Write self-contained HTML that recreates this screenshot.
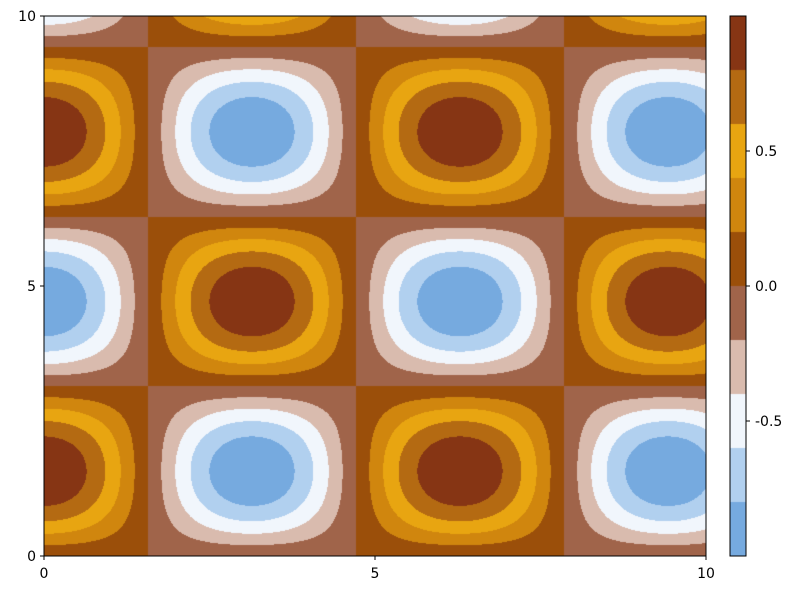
<!DOCTYPE html>
<html>
<head>
<meta charset="utf-8">
<style>
  html,body{margin:0;padding:0;background:#fff;}
  #wrap{position:relative;width:800px;height:600px;font-family:"DejaVu Sans","Liberation Sans",sans-serif;}
  canvas,svg{position:absolute;left:0;top:0;}
  text{font-family:"DejaVu Sans","Liberation Sans",sans-serif;}
</style>
</head>
<body>
<div id="wrap">
  <canvas id="plot" width="800" height="600"></canvas>
  <svg id="axes" width="800" height="600"></svg>
</div>
<script>
// ---- chart data ----
const levels = [-1.0,-0.8,-0.6,-0.4,-0.2,0.0,0.2,0.4,0.6,0.8,1.0];
const levelColors = ["#76aadf","#b1d0ef","#f1f6fc","#d9bbae","#a0644a","#9b4f0a","#d0860e","#e8a511","#b46a12","#863514"];
const xTicks = [0,5,10];
const yTicks = [0,5,10];
const cbTicks = [-0.5,0.0,0.5];
const cbTickLabels = ["-0.5","0.0","0.5"];
const xDomain = [0,10];
const yDomain = [0,10];
const fx = [1.0]; // z = cos(fx*x) * sin(fy*y)
const fy = [1.0];

// ---- layout ----
const L=44,R=706,T=16,B=556;
const CBL=730,CBR=746;
const sx = v => L + (v-xDomain[0])/(xDomain[1]-xDomain[0])*(R-L);
const sy = v => B - (v-yDomain[0])/(yDomain[1]-yDomain[0])*(B-T);
const sc = v => B - (v-levels[0])/(levels[levels.length-1]-levels[0])*(B-T);
const ix = p => xDomain[0] + (p-L)/(R-L)*(xDomain[1]-xDomain[0]);
const iy = p => yDomain[0] + (B-p)/(B-T)*(yDomain[1]-yDomain[0]);

function hex(c){return [parseInt(c.slice(1,3),16),parseInt(c.slice(3,5),16),parseInt(c.slice(5,7),16)];}
const rgb = levelColors.map(hex);
function bin(z){
  for(let i=0;i<levels.length-1;i++){ if(z<levels[i+1]) return i; }
  return levels.length-2;
}

const cv=document.getElementById('plot');
const ctx=cv.getContext('2d');
const w=R-L,h=B-T;
const img=ctx.createImageData(w,h);
for(let py=0;py<h;py++){
  const y=iy(T+py+0.5);
  const sy_=Math.sin(fy[0]*y);
  for(let px=0;px<w;px++){
    const x=ix(L+px+0.5);
    const z=Math.cos(fx[0]*x)*sy_;
    const c=rgb[bin(z)];
    const k=(py*w+px)*4;
    img.data[k]=c[0];img.data[k+1]=c[1];img.data[k+2]=c[2];img.data[k+3]=255;
  }
}
ctx.putImageData(img,L,T);

// colorbar
for(let i=0;i<levelColors.length;i++){
  ctx.fillStyle=levelColors[i];
  const y1=sc(levels[i+1]), y0=sc(levels[i]);
  ctx.fillRect(CBL,y1,CBR-CBL,y0-y1);
}

// ---- axes ----
const svg=document.getElementById('axes');
const NS='http://www.w3.org/2000/svg';
function mk(tag,attrs,parent){
  const e=document.createElementNS(NS,tag);
  for(const k in attrs) e.setAttribute(k,attrs[k]);
  (parent||svg).appendChild(e); return e;
}
const frame=mk('rect',{x:L,y:T,width:R-L,height:B-T,fill:'none',stroke:'#000','stroke-width':1});


const cbf=mk('rect',{x:CBL,y:T,width:CBR-CBL,height:B-T,fill:'none',stroke:'#000','stroke-width':1});



xTicks.forEach(v=>{
  const x=sx(v);
  const t=mk('line',{x1:x,x2:x,y1:B,y2:B+4,stroke:'#000'});
  
  
  const l=mk('text',{x:x,y:B+22,'text-anchor':'middle','font-size':14,fill:'#000'});
  l.textContent=String(v);
  
  
});
yTicks.forEach(v=>{
  const y=sy(v);
  const t=mk('line',{x1:L-4,x2:L,y1:y,y2:y,stroke:'#000'});
  
  
  const l=mk('text',{x:L-8,y:y+5,'text-anchor':'end','font-size':14,fill:'#000'});
  l.textContent=String(v);
  
  
});
cbTicks.forEach((v,i)=>{
  const y=sc(v);
  const t=mk('line',{x1:CBR,x2:CBR+4,y1:y,y2:y,stroke:'#000'});
  
  
  const l=mk('text',{x:CBR+9,y:y+5,'text-anchor':'start','font-size':14,fill:'#000'});
  l.textContent=cbTickLabels[i];
  
  
});
</script>
</body>
</html>
